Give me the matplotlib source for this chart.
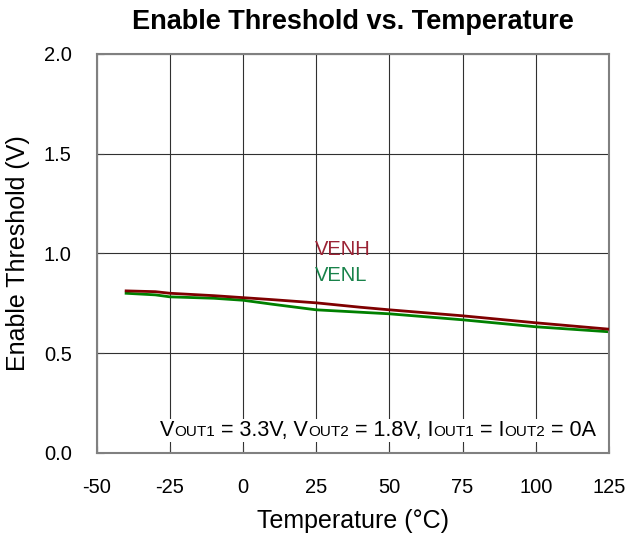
import numpy as np
import matplotlib
matplotlib.use("Agg")
import matplotlib.pyplot as plt
from matplotlib.patches import Rectangle

plt.rcParams['font.family'] = ['Liberation Sans', 'DejaVu Sans']
plt.rcParams['axes.unicode_minus'] = False

# Enable threshold measurements
temp_c = [-40, -30, -25, -10, 0, 10, 25, 40, 50, 75, 100, 125]
venh = [0.812, 0.808, 0.800, 0.788, 0.778, 0.768, 0.752, 0.730, 0.717, 0.687, 0.652, 0.620]
venl = [0.800, 0.792, 0.782, 0.775, 0.765, 0.745, 0.717, 0.705, 0.697, 0.667, 0.632, 0.607]

x_ticks = [-50, -25, 0, 25, 50, 75, 100, 125]
y_ticks = [0.0, 0.5, 1.0, 1.5, 2.0]

fig = plt.figure(figsize=(6.29, 5.34), dpi=100)
ax = fig.add_axes([0.154, 0.152, 0.814, 0.747])

ax.plot(temp_c, venh, color='#7f0000', lw=2.0, zorder=3)
ax.plot(temp_c, venl, color='#008000', lw=2.0, zorder=2)

ax.set_xlim(-50, 125)
ax.set_ylim(0, 2)
ax.set_xticks(x_ticks)
ax.set_yticks(y_ticks)
ax.set_yticklabels(['%.1f' % v for v in y_ticks])
ax.grid(True, color='#303030', lw=0.8)
ax.set_axisbelow(True)
for s in ax.spines.values():
    s.set_color('#808080')
    s.set_linewidth(1.5)
ax.tick_params(labelsize=14.5, length=5, direction='in', color='#404040')
ax.tick_params(axis='x', pad=18)
ax.tick_params(axis='y', pad=18)

ax.set_title('Enable Threshold vs. Temperature', fontsize=19.5, fontweight='bold', pad=18)
ax.set_xlabel('Temperature (°C)', fontsize=18, labelpad=9)
ax.set_ylabel('Enable Threshold (V)', fontsize=18, labelpad=10)

ax.text(24.5, 1.02, 'VENH', color='#9b2335', fontsize=14.5, va='center')
ax.text(24.5, 0.887, 'VENL', color='#18824a', fontsize=14.5, va='center')

# condition note with small-caps style subscripts, laid out piece by piece
pieces = [('V', 15.5), ('OUT1', 11), (' = 3.3V, V', 15.5), ('OUT2', 11), (' = 1.8V, I', 15.5),
          ('OUT1', 11), (' = I', 15.5), ('OUT2', 11), (' = 0A', 15.5)]
x0, y0 = -28.5, 0.085
texts = []
for txt, size in pieces:
    t = ax.text(x0, y0, txt, fontsize=size, va='baseline', ha='left', zorder=5)
    fig.canvas.draw()
    ext = t.get_window_extent()
    x0 = ax.transData.inverted().transform((ext.x1, 0))[0]
    texts.append(t)

# white box behind the note so the grid does not run through it
r = fig.canvas.get_renderer()
boxes = [t.get_window_extent(r) for t in texts]
bx0 = min(b.x0 for b in boxes) - 2
bx1 = max(b.x1 for b in boxes) + 2
by0 = min(b.y0 for b in boxes) - 1
by1 = max(b.y1 for b in boxes) + 1
inv = ax.transAxes.inverted()
(ax0, ay0), (ax1, ay1) = inv.transform([(bx0, by0), (bx1, by1)])
ax.add_patch(Rectangle((ax0, ay0), ax1 - ax0, ay1 - ay0, transform=ax.transAxes,
                       facecolor='white', edgecolor='none', zorder=4))

fig.savefig('out.png', dpi=100)
